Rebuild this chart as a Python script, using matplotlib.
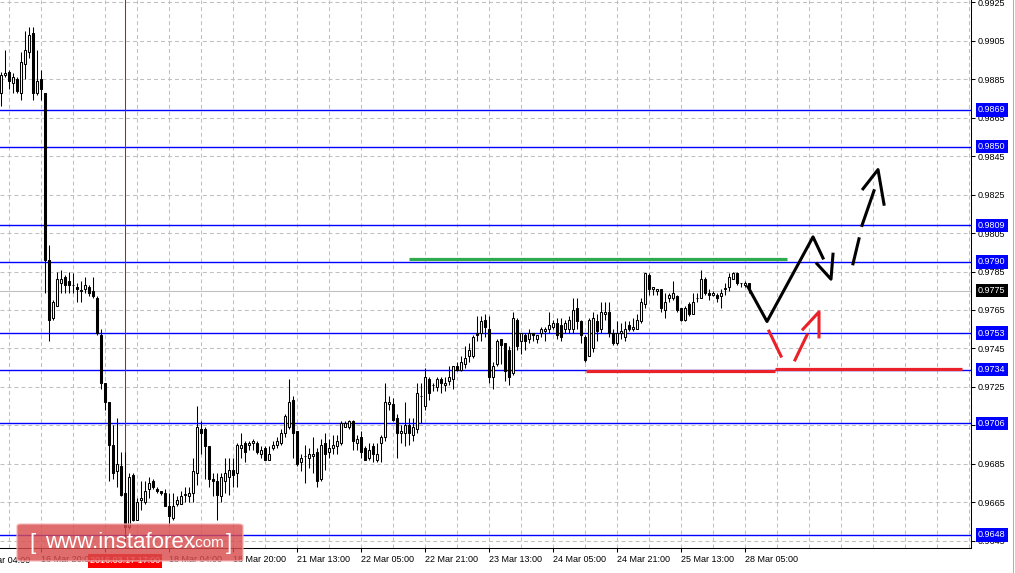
import matplotlib
matplotlib.use("Agg")
import matplotlib.pyplot as plt
from matplotlib.patches import FancyBboxPatch
from matplotlib.lines import Line2D
import numpy as np

W, H = 1015, 573

# H1 candles, bar 0 = 16 Mar 10:00
opens = [
    .9878, .9887, .9889, .9883, .9885, .9878, .9893, .9899, .9909, .9878,
    .9885, .9878, .9791, .9761, .9767, .9779, .9782, .9780, .9778, .9777,
    .9775, .9776, .9777, .9775, .9771, .9752, .9727, .9717, .9695, .9681,
    .9684, .9670, .9652, .9679, .9656, .9666, .9665, .9672, .9676, .9672,
    .9671, .9670, .9663, .9657, .9664, .9664, .9669, .9668, .9670, .9680,
    .9703, .9703, .9694, .9677, .9676, .9668, .9676, .9678, .9682, .9680,
    .9693, .9696, .9695, .9696, .9696, .9690, .9693, .9687, .9693, .9695,
    .9696, .9701, .9704, .9718, .9702, .9686, .9689, .9688, .9689, .9691,
    .9677, .9696, .9691, .9693, .9694, .9696, .9704, .9704, .9707, .9696,
    .9699, .9693, .9688, .9694, .9687, .9696, .9699, .9716, .9716, .9709,
    .9701, .9701, .9705, .9700, .9703, .9720, .9715, .9729, .9726, .9725,
    .9729, .9726, .9728, .9729, .9736, .9734, .9737, .9741, .9741, .9753,
    .9753, .9760, .9755, .9730, .9737, .9750, .9748, .9744, .9732, .9760,
    .9749, .9752, .9750, .9753, .9750, .9753, .9754, .9755, .9756, .9758,
    .9757, .9755, .9755, .9755, .9766, .9759, .9751, .9741, .9745, .9759,
    .9755, .9763, .9764, .9753, .9748, .9753, .9751, .9757, .9755, .9755,
    .9759, .9768, .9783, .9776, .9775, .9776, .9765, .9771, .9771, .9772,
    .9766, .9760, .9768, .9763, .9771, .9771, .9781, .9774, .9773, .9773,
    .9772, .9776, .9777, .9781, .9784, .9779, .9778, .9779,
]
highs = [
    .9889, .9900, .9890, .9888, .9886, .9899, .9910, .9912, .9912, .9900,
    .9890, .9878, .9799, .9770, .9785, .9786, .9783, .9785, .9784, .9779,
    .9780, .9782, .9778, .9782, .9772, .9755, .9727, .9717, .9705, .9709,
    .9691, .9691, .9680, .9680, .9667, .9676, .9676, .9678, .9677, .9673,
    .9671, .9672, .9670, .9670, .9668, .9671, .9673, .9673, .9688, .9715,
    .9707, .9704, .9694, .9680, .9680, .9680, .9688, .9688, .9688, .9696,
    .9701, .9697, .9697, .9698, .9697, .9694, .9694, .9694, .9697, .9699,
    .9703, .9711, .9729, .9720, .9702, .9690, .9695, .9693, .9699, .9693,
    .9698, .9701, .9698, .9700, .9700, .9707, .9707, .9708, .9708, .9700,
    .9702, .9694, .9696, .9696, .9696, .9700, .9727, .9720, .9719, .9711,
    .9705, .9717, .9709, .9709, .9727, .9727, .9735, .9730, .9727, .9730,
    .9730, .9730, .9736, .9736, .9738, .9741, .9746, .9748, .9752, .9762,
    .9762, .9763, .9762, .9738, .9750, .9750, .9748, .9746, .9764, .9761,
    .9753, .9753, .9755, .9753, .9752, .9756, .9756, .9764, .9760, .9761,
    .9761, .9760, .9762, .9771, .9771, .9760, .9752, .9761, .9764, .9763,
    .9769, .9769, .9769, .9755, .9759, .9758, .9759, .9759, .9761, .9763,
    .9771, .9784, .9784, .9777, .9776, .9776, .9774, .9774, .9780, .9773,
    .9766, .9767, .9769, .9774, .9774, .9786, .9782, .9776, .9775, .9774,
    .9776, .9779, .9784, .9785, .9785, .9779, .9780, .9779,
]
lows = [
    .9871, .9886, .9880, .9878, .9878, .9874, .9885, .9896, .9874, .9877,
    .9874, .9774, .9749, .9760, .9767, .9774, .9774, .9774, .9774, .9769,
    .9769, .9774, .9772, .9771, .9752, .9724, .9713, .9676, .9677, .9673,
    .9668, .9645, .9651, .9655, .9656, .9661, .9664, .9667, .9672, .9670,
    .9669, .9663, .9653, .9656, .9663, .9664, .9665, .9665, .9665, .9674,
    .9690, .9677, .9673, .9668, .9656, .9665, .9670, .9669, .9673, .9673,
    .9688, .9686, .9692, .9692, .9690, .9688, .9687, .9687, .9692, .9693,
    .9695, .9699, .9703, .9688, .9684, .9681, .9675, .9683, .9680, .9673,
    .9676, .9682, .9688, .9690, .9690, .9695, .9704, .9703, .9692, .9692,
    .9688, .9687, .9687, .9686, .9686, .9686, .9697, .9713, .9707, .9688,
    .9696, .9694, .9695, .9697, .9701, .9706, .9713, .9718, .9723, .9723,
    .9722, .9723, .9726, .9724, .9733, .9733, .9735, .9738, .9740, .9749,
    .9749, .9751, .9727, .9724, .9736, .9737, .9728, .9726, .9731, .9744,
    .9742, .9744, .9748, .9749, .9748, .9751, .9749, .9753, .9755, .9750,
    .9749, .9753, .9753, .9753, .9755, .9748, .9738, .9741, .9743, .9749,
    .9753, .9760, .9751, .9747, .9747, .9750, .9749, .9754, .9754, .9755,
    .9758, .9766, .9773, .9773, .9773, .9764, .9761, .9769, .9770, .9764,
    .9759, .9759, .9762, .9763, .9769, .9771, .9773, .9770, .9772, .9769,
    .9766, .9773, .9775, .9781, .9778, .9777, .9777, .9774,
]
closes = [
    .9887, .9888, .9884, .9886, .9879, .9894, .9900, .9908, .9878, .9884,
    .9880, .9791, .9760, .9769, .9781, .9781, .9778, .9778, .9778, .9776,
    .9775, .9778, .9774, .9772, .9753, .9727, .9717, .9695, .9680, .9685,
    .9669, .9652, .9678, .9656, .9665, .9667, .9671, .9675, .9673, .9671,
    .9670, .9663, .9658, .9663, .9666, .9668, .9669, .9670, .9681, .9704,
    .9701, .9694, .9677, .9676, .9669, .9678, .9680, .9682, .9679, .9695,
    .9695, .9691, .9696, .9697, .9691, .9692, .9687, .9690, .9695, .9697,
    .9701, .9710, .9717, .9701, .9685, .9688, .9689, .9690, .9690, .9676,
    .9695, .9690, .9693, .9695, .9697, .9706, .9706, .9707, .9697, .9698,
    .9691, .9687, .9692, .9690, .9690, .9699, .9717, .9717, .9708, .9701,
    .9702, .9705, .9701, .9704, .9722, .9720, .9730, .9722, .9726, .9729,
    .9727, .9727, .9730, .9736, .9734, .9738, .9740, .9744, .9751, .9752,
    .9759, .9756, .9730, .9736, .9749, .9747, .9733, .9730, .9761, .9746,
    .9753, .9749, .9753, .9752, .9752, .9755, .9755, .9757, .9758, .9752,
    .9751, .9758, .9760, .9765, .9759, .9752, .9739, .9760, .9761, .9754,
    .9764, .9764, .9753, .9748, .9753, .9754, .9755, .9755, .9756, .9760,
    .9769, .9784, .9776, .9777, .9776, .9766, .9769, .9773, .9774, .9765,
    .9760, .9766, .9763, .9769, .9771, .9781, .9774, .9773, .9774, .9771,
    .9774, .9776, .9782, .9784, .9779, .9779, .9779, .9776,
]

time_ticks = [-6, 10, 26, 42, 58, 74, 90, 106, 122, 138, 154, 170, 186]
time_labels = ["16 Mar 04:00", "16 Mar 20:00", "17 Mar 12:00", "18 Mar 04:00",
               "18 Mar 20:00", "21 Mar 13:00", "22 Mar 05:00", "22 Mar 21:00",
               "23 Mar 13:00", "24 Mar 05:00", "24 Mar 21:00", "25 Mar 13:00",
               "28 Mar 05:00"]
price_ticks = [0.9645, 0.9665, 0.9685, 0.9705, 0.9725, 0.9745, 0.9765, 0.9785,
               0.9805, 0.9825, 0.9845, 0.9865, 0.9885, 0.9905, 0.9925]

levels = [0.9869, 0.9850, 0.9809, 0.9790, 0.9753, 0.9734, 0.9706, 0.9648]
bid = 0.9775
cursor_bar = 31
cursor_label = "2016.03.17 17:00"

# hand drawn marks (bar index, price)
green_x, green_y = [102, 196.5], [0.97915, 0.97915]
red_line1_x, red_line1_y = [146.25, 193.5], [0.97335, 0.97335]
red_line2_x, red_line2_y = [193.5, 240.25], [0.97345, 0.97345]
black_path_x = [186.75, 191.5, 203, 205.5]
black_path_y = [0.9777, 0.9759, 0.9803, 0.9792]
black_head_x = [204, 207.5, 208]
black_head_y = [0.9789, 0.9781, 0.9794]
black_dash = [([213, 214.5], [0.9789, 0.9802]), ([215.25, 218.25], [0.9809, 0.9827])]
black_head2_x = [215.5, 219.25, 220.75]
black_head2_y = [0.9828, 0.9838, 0.9820]
red_dash = [([192, 195], [0.9754, 0.9741]), ([198.5, 201.5], [0.9739, 0.9752])]
red_head_x = [200.5, 204.5, 204.5]
red_head_y = [0.9755, 0.9764, 0.9751]

plt.rcParams["font.family"] = ["Liberation Sans", "DejaVu Sans"]

fig = plt.figure(figsize=(W / 100, H / 100), dpi=100)
ax = fig.add_axes([0, 25 / H, 971 / W, 548 / H])

for s in ["top", "left"]:
    ax.spines[s].set_visible(False)
for s in ["right", "bottom"]:
    ax.spines[s].set_linewidth(0.75)

# grid
dash = (0, (3.8, 2.9))
for gx in np.arange(2, 243, 8):
    ax.axvline(gx, color="#c0c0c0", lw=0.75, ls=dash, zorder=0)
for gy in price_ticks:
    ax.axhline(gy, color="#c0c0c0", lw=0.75, ls=dash, zorder=0)
ax.axhline(bid, color="#c0c0c0", lw=0.8, zorder=0.5)

# level lines
for lv in levels:
    ax.axhline(lv, color="#0000ff", lw=1.0, zorder=1)

# cursor
ax.axvline(cursor_bar, color="#ff0000", lw=0.75, zorder=1.2)

# candles
o = np.array(opens); h = np.array(highs); l = np.array(lows); c = np.array(closes)
x = np.arange(len(o))
ax.vlines(x, l, h, color="black", lw=0.75, zorder=2)
up = c >= o
body = np.maximum(np.abs(c - o), 0.00002)
ax.bar(x[up], body[up], bottom=np.minimum(o, c)[up], width=0.55,
       color="white", edgecolor="black", linewidth=0.75, zorder=3)
ax.bar(x[~up], body[~up], bottom=np.minimum(o, c)[~up], width=0.55,
       color="black", edgecolor="black", linewidth=0.75, zorder=3)

# analysis drawings
ax.plot(green_x, green_y, color="#2eaa4f", lw=2.3, solid_capstyle="butt", zorder=4)
ax.plot(red_line1_x, red_line1_y, color="#ea2129", lw=2.3, solid_capstyle="butt", zorder=4)
ax.plot(red_line2_x, red_line2_y, color="#ea2129", lw=2.3, solid_capstyle="butt", zorder=4)
ax.plot(black_path_x, black_path_y, color="black", lw=2.2, zorder=5)
ax.plot(black_head_x, black_head_y, color="black", lw=2.2, zorder=5)
for sx, sy in black_dash:
    ax.plot(sx, sy, color="black", lw=2.2, zorder=5)
ax.plot(black_head2_x, black_head2_y, color="black", lw=2.2, zorder=5)
for sx, sy in red_dash:
    ax.plot(sx, sy, color="#ea2129", lw=2.2, zorder=5)
ax.plot(red_head_x, red_head_y, color="#ea2129", lw=2.2, zorder=5)

# y axis on the right
ax.yaxis.tick_right()
ax.set_yticks(price_ticks)
ax.set_yticklabels([f"{p:.4f}" for p in price_ticks])
ax.tick_params(axis="y", length=2.9, width=0.75, pad=2.2, labelsize=6.5)

# time axis (the first label lies left of the view, drawn as text)
ax.set_xticks(time_ticks[1:])
ax.set_xticklabels(time_labels[1:], ha="left")
ax.tick_params(axis="x", length=2.9, width=0.75, pad=2.5, labelsize=6.5)

ax.set_xlim(-0.25, 242.5)
ax.set_ylim(0.96412, 0.99262)

ytrans = ax.get_yaxis_transform()
for lv in levels:
    ax.text(1.0072, lv, f"{lv:.4f}", transform=ytrans, ha="left", va="center",
            fontsize=6.5, color="white", clip_on=False, zorder=10,
            bbox=dict(boxstyle="square,pad=0.25", fc="#0000ff", ec="none"))
ax.text(1.0072, bid, f"{bid:.4f}", transform=ytrans, ha="left", va="center",
        fontsize=6.5, color="white", clip_on=False, zorder=10,
        bbox=dict(boxstyle="square,pad=0.25", fc="black", ec="none"))

xtrans = ax.get_xaxis_transform()
ax.text(time_ticks[0], -0.0237, time_labels[0], transform=xtrans, ha="left",
        va="center", fontsize=6.5, clip_on=False)
ax.text(cursor_bar, -0.0237, cursor_label, transform=xtrans, ha="center",
        va="center", fontsize=6.5, color="white", clip_on=False, zorder=10,
        bbox=dict(boxstyle="square,pad=0.25", fc="#ff0000", ec="none"))

# thin frame line at the far right
fig.add_artist(Line2D([1012.5 / W] * 2, [0, 1], transform=fig.transFigure,
                      color="#b0b0b0", lw=0.75))

# watermark
wm = FancyBboxPatch((17 / W, 1 - 561 / H), 226 / W, 37 / H,
                    boxstyle="round,pad=0,rounding_size=0.004",
                    transform=fig.transFigure, fc=(0.85, 0.30, 0.30), alpha=0.82,
                    ec="#f3b5b5", lw=1.0, zorder=20)
fig.add_artist(wm)
fig.text(29 / W, 1 - 543 / H, "[", color="white", fontsize=16, va="center",
         ha="left", zorder=21)
fig.text(45 / W, 1 - 542 / H, "www.instaforex", color="white", fontsize=16,
         va="center", ha="left", zorder=21)
fig.text(192 / W, 1 - 543 / H, ".com", color="white", fontsize=11,
         va="center", ha="left", zorder=21)
fig.text(226 / W, 1 - 543 / H, "]", color="white", fontsize=16, va="center",
         ha="left", zorder=21)

fig.savefig("out.png", dpi=100)
